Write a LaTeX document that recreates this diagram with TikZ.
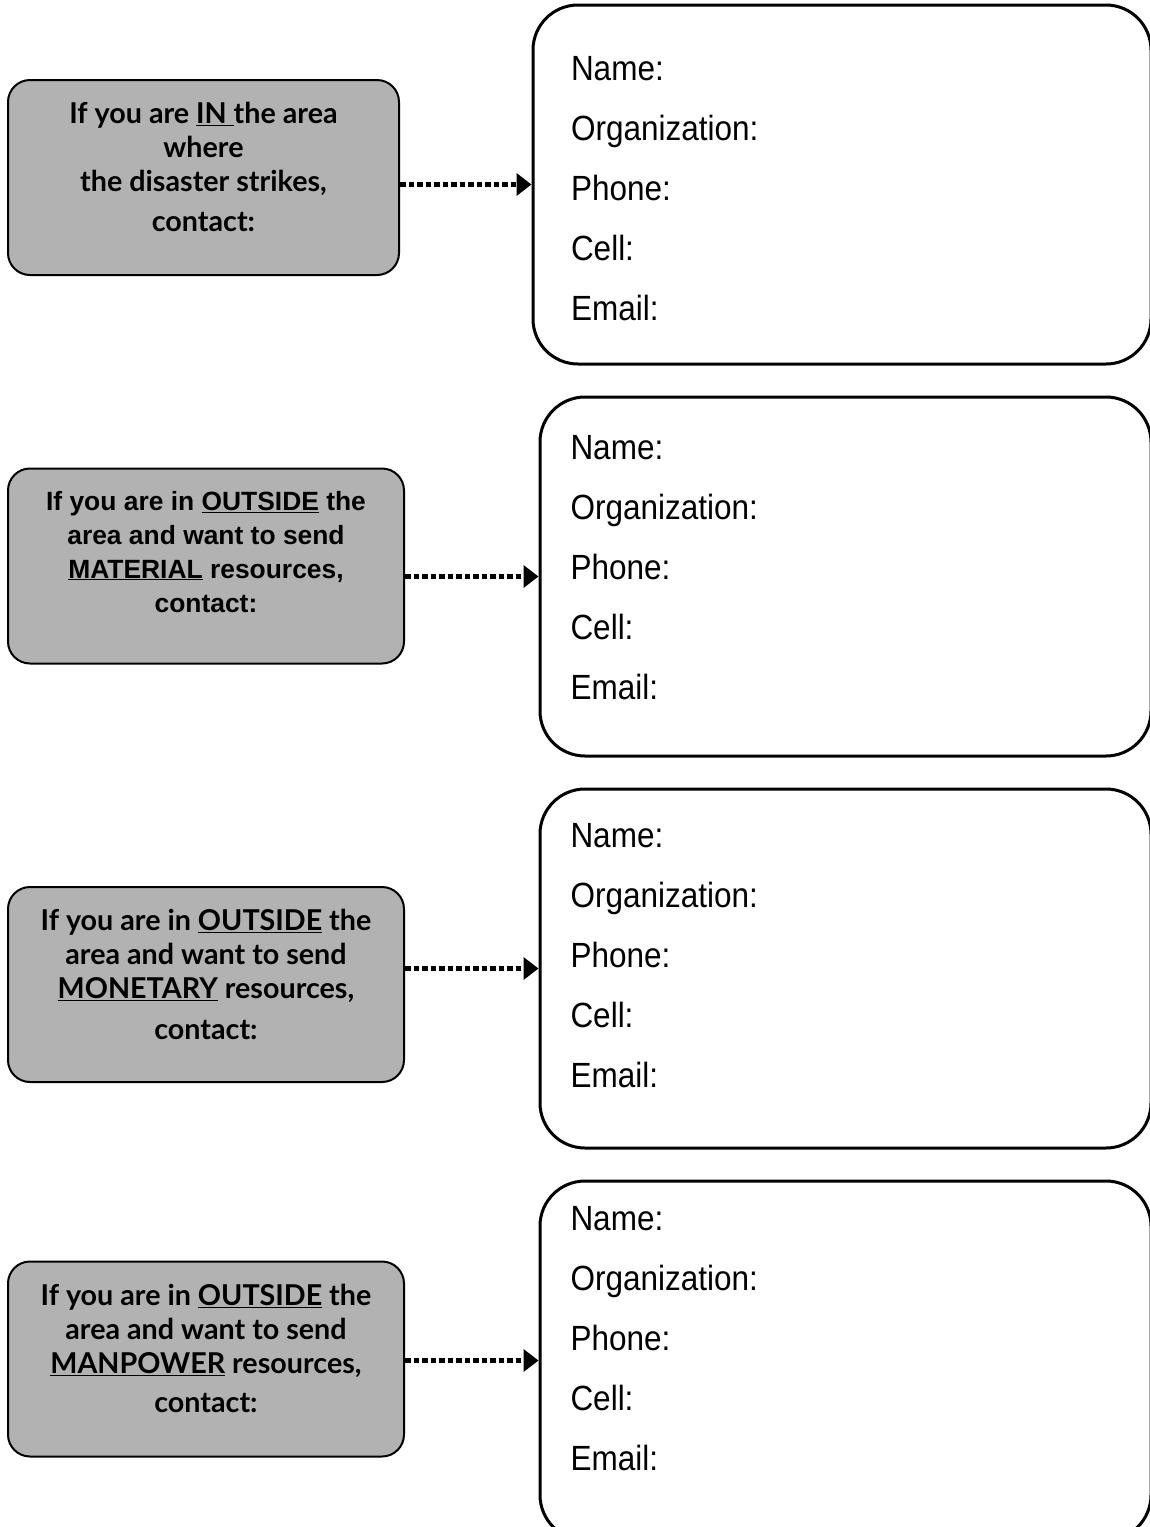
\documentclass[tikz,border=0pt]{standalone}
\usepackage{fontspec}
\setmainfont{Liberation Sans}
\newfontfamily\askfont{Lato}
\newfontfamily\matfont{Liberation Sans}
\newfontfamily\formfont[FakeStretch=0.9]{Liberation Sans}
\usetikzlibrary{positioning,arrows.meta}

\newcommand{\asktext}[1]{\parbox[c][150pt][t]{390pt}{\centering\askfont\bfseries\fontsize{28.7}{34}\selectfont #1}}
\newcommand{\formtext}[2][550pt]{\parbox[c][#2][t]{#1}{\formfont\fontsize{35}{60}\selectfont Name:\\Organization:\\Phone:\\Cell:\\Email:}}

\begin{document}
\begin{tikzpicture}[x=1pt, y=-1pt, node distance=30pt,
    askbox/.style = {draw, line width=2pt, fill=black!30, rounded corners=22pt, minimum width=396pt, minimum height=195pt, inner sep=0pt},
    formbox/.style = {draw, line width=3pt, rounded corners=45pt, minimum width=611pt, minimum height=359pt, inner sep=0pt},
    dotarrow/.style = {line width=5.5pt, dash pattern=on 5.5pt off 3pt, -{Triangle[length=15pt,width=22pt]}}]
    \useasboundingbox (0,0) rectangle (1150,1527);
    % contact forms on the right
    \node[formbox, minimum width=618pt] (form1) at (842,184.5) {\formtext[542pt]{256pt}};
    \node[formbox] (form2) [below=of form1.south east, anchor=north east] {\formtext{282pt}};
    \node[formbox] (form3) [below=of form2] {\formtext{290pt}};
    \node[formbox] (form4) [below=of form3] {\formtext{308pt}};
    % grey question boxes
    \node[askbox, minimum width=391pt] (ask1) at (203.5,177.5) {\asktext{If you are \underline{IN\ }the area\\ where\\ the disaster strikes,\\[6pt] contact:}};
    \node[askbox] (ask2) at (206,566) {\asktext{\matfont\bfseries\fontsize{26.4}{34}\selectfont If you are in \underline{OUTSIDE} the\\ area and want to send\\ \underline{MATERIAL} resources,\\ contact:}};
    \node[askbox] (ask3) at (206,984.5) {\asktext{If you are in \underline{OUTSIDE} the\\ area and want to send\\ \underline{MONETARY} resources,\\[7pt] contact:}};
    \node[askbox] (ask4) at (206,1359) {\asktext{If you are in \underline{OUTSIDE} the\\ area and want to send\\ \underline{MANPOWER} resources,\\[5pt] contact:}};
    \draw[dotarrow] (form1.west -| ask1.east) -- (form1.west);
    \draw[dotarrow] (form2.west -| ask2.east) -- (form2.west);
    \draw[dotarrow] (form3.west -| ask3.east) -- (form3.west);
    \draw[dotarrow] (form4.west -| ask4.east) -- (form4.west);
\end{tikzpicture}
\end{document}
